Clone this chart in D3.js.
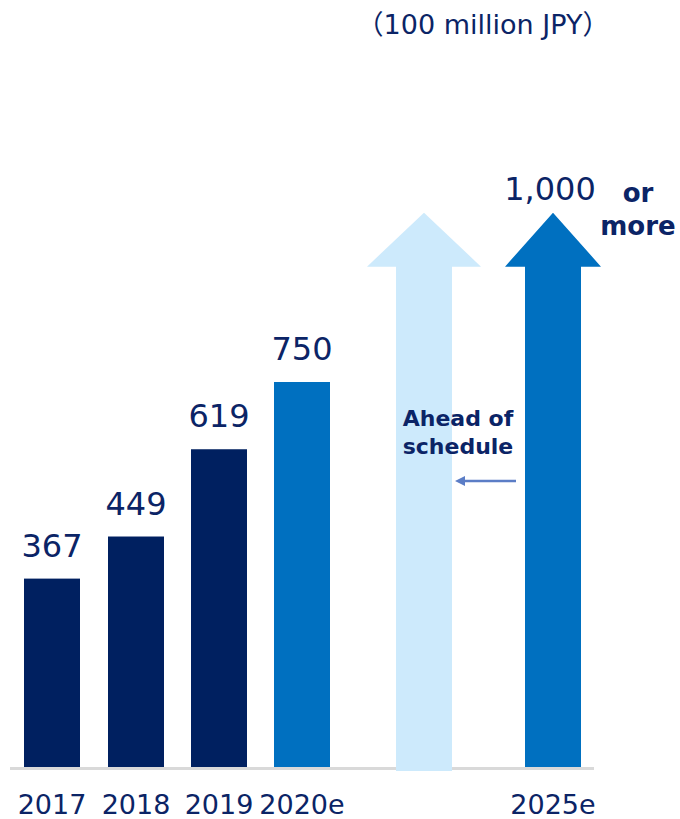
<!DOCTYPE html>
<html lang="en">
<head>
  <meta charset="UTF-8">
  <title>sales target</title>
</head>
<body>
<style>
  * { padding: 0; margin: 0; }
  body { background: #fff; }
  #app { width: 680px; height: 819px; }
  text { font-family: "DejaVu Sans", Verdana, "Noto Sans CJK JP", sans-serif; fill: #0b2466; }
</style>

<div id="app"></div>

<script src="https://cdn.jsdelivr.net/npm/d3@7"></script>
<script>
  // data
  const years = ["2017", "2018", "2019", "2020e"];
  const values = [367, 449, 619, 750];
  const target = 1000;
  const targetLabel = "2025e";

  let $width = 680, $height = 819, $base = 767;

  const svg = d3.select("#app").append("svg").attr("width", $width).attr("height", $height);

  const scaleY = d3.scaleLinear().domain([0, 750]).range([$base, 382]);

  // band positions: 4 bars, then gap slot (light arrow), then 2025e arrow
  const slots = years.concat(["ahead", targetLabel]);
  const scaleX = d3.scaleOrdinal().domain(slots).range([52, 136, 219, 302, 424, 553]);
  const barW = 56;

  /**
   * baseline
   */
  svg.append("rect").attr("x", 10).attr("y", $base).attr("width", 584).attr("height", 3).attr("fill", "#d9d9d9");

  /**
   * bars
   */
  svg.selectAll("rect.bar").data(values).enter().append("rect").classed("bar", true)
    .attr("x", (d, i) => scaleX(years[i]) - barW / 2)
    .attr("y", d => scaleY(d))
    .attr("width", barW)
    .attr("height", d => $base - scaleY(d))
    .attr("fill", (d, i) => years[i].endsWith("e") ? "#0070c0" : "#002060");

  svg.selectAll("text.val").data(values).enter().append("text").classed("val", true)
    .attr("x", (d, i) => scaleX(years[i]))
    .attr("y", d => scaleY(d) - 22)
    .attr("text-anchor", "middle")
    .attr("font-size", 32)
    .text(d => d);

  /**
   * arrows
   */
  function arrow(cx, half, headHalf, bottom, color) {
    const tipY = scaleY(target) - 41, baseY = scaleY(target) + 13;
    const p = d3.path();
    p.moveTo(cx, tipY);
    p.lineTo(cx + headHalf, baseY);
    p.lineTo(cx + half, baseY);
    p.lineTo(cx + half, bottom);
    p.lineTo(cx - half, bottom);
    p.lineTo(cx - half, baseY);
    p.lineTo(cx - headHalf, baseY);
    p.closePath();
    svg.append("path").attr("d", p.toString()).attr("fill", color);
  }
  arrow(scaleX("ahead"), 28, 57, $base + 4, "#cdeafc");
  arrow(scaleX(targetLabel), 28, 48, $base, "#0070c0");

  // 1,000 label
  svg.append("text").attr("x", scaleX(targetLabel) - 3).attr("y", scaleY(target) - 54)
    .attr("text-anchor", "middle").attr("font-size", 32).text(d3.format(",")(target));
  svg.append("text").attr("x", 638).attr("y", 202).attr("text-anchor", "middle")
    .attr("font-size", 26).attr("font-weight", "bold").text("or");
  svg.append("text").attr("x", 638).attr("y", 235).attr("text-anchor", "middle")
    .attr("font-size", 26).attr("font-weight", "bold").text("more");

  // ahead of schedule
  svg.append("text").attr("x", 458).attr("y", 426).attr("text-anchor", "middle")
    .attr("font-size", 22).attr("font-weight", "bold").text("Ahead of");
  svg.append("text").attr("x", 458).attr("y", 454).attr("text-anchor", "middle")
    .attr("font-size", 22).attr("font-weight", "bold").text("schedule");

  svg.append("defs").append("marker").attr("id", "head").attr("viewBox", "0 0 10 10")
    .attr("refX", 2).attr("refY", 5).attr("markerWidth", 4).attr("markerHeight", 4)
    .attr("orient", "auto").append("path").attr("d", "M0,0L10,5L0,10z").attr("fill", "#5b7dc6");
  svg.append("line").attr("x1", 516).attr("y1", 481).attr("x2", 463).attr("y2", 481)
    .attr("stroke", "#5b7dc6").attr("stroke-width", 2.5).attr("marker-end", "url(#head)");

  /**
   * x labels
   */
  svg.selectAll("text.year").data(years.concat([targetLabel])).enter().append("text").classed("year", true)
    .attr("x", d => scaleX(d))
    .attr("y", 814)
    .attr("text-anchor", "middle")
    .attr("font-size", 27)
    .text(d => d);

  // unit
  svg.append("text").attr("x", 483).attr("y", 34).attr("text-anchor", "middle")
    .attr("font-size", 27).text("（100 million JPY）");
</script>
</body>
</html>
